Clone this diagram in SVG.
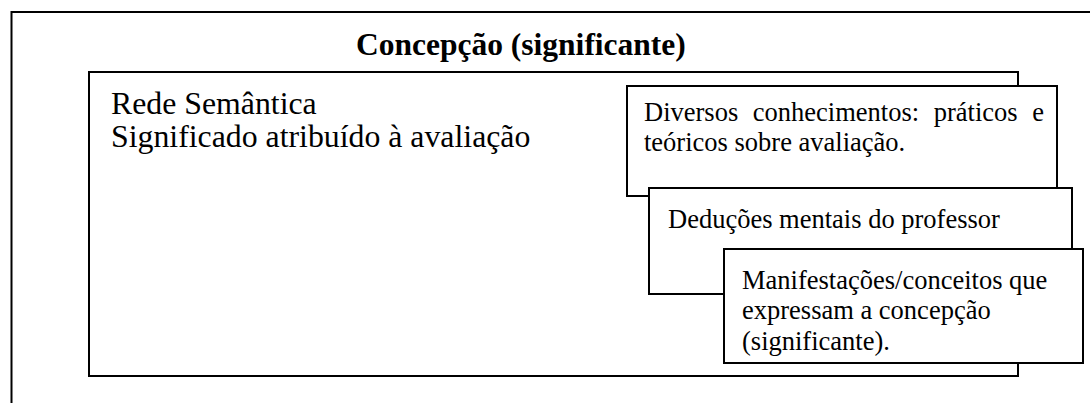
<svg xmlns="http://www.w3.org/2000/svg" width="1090" height="403" viewBox="0 0 1090 403">
<style>
  .box { fill: #ffffff; stroke: #000000; stroke-width: 2; }
  .frame { fill: none; stroke: #000000; stroke-width: 2; }
  text { font-family: "Liberation Serif", "Times New Roman", serif; fill: #000000; }
  .title { font-size: 31.5px; font-weight: bold; }
  .big { font-size: 31.8px; }
  .small { font-size: 26.5px; }
</style>
<rect width="1090" height="403" fill="#ffffff"/>
<g id="outer-frame">
  <path class="frame" d="M11.5,403 V12 H1090"/>
  <text class="title" x="356" y="55">Concepção (significante)</text>
</g>
<g id="rede-semantica">
  <rect class="box" x="89" y="72" width="929" height="304"/>
  <text class="big" x="111" y="114">Rede Semântica</text>
  <text class="big" x="111" y="147">Significado atribuído à avaliação</text>
</g>
<g id="conhecimentos">
  <rect class="box" x="627" y="86" width="430" height="110"/>
  <text class="small" x="644" y="121" word-spacing="8">Diversos conhecimentos: práticos e</text>
  <text class="small" x="644" y="151">teóricos sobre avaliação.</text>
</g>
<g id="deducoes">
  <rect class="box" x="649" y="188" width="423" height="106"/>
  <text class="small" x="668" y="228">Deduções mentais do professor</text>
</g>
<g id="manifestacoes">
  <rect class="box" x="724" y="249" width="359" height="114"/>
  <text class="small" x="742" y="289">Manifestações/conceitos que</text>
  <text class="small" x="742" y="319">expressam a concepção</text>
  <text class="small" x="742" y="350">(significante).</text>
</g>
<g id="connectors"></g>
</svg>
